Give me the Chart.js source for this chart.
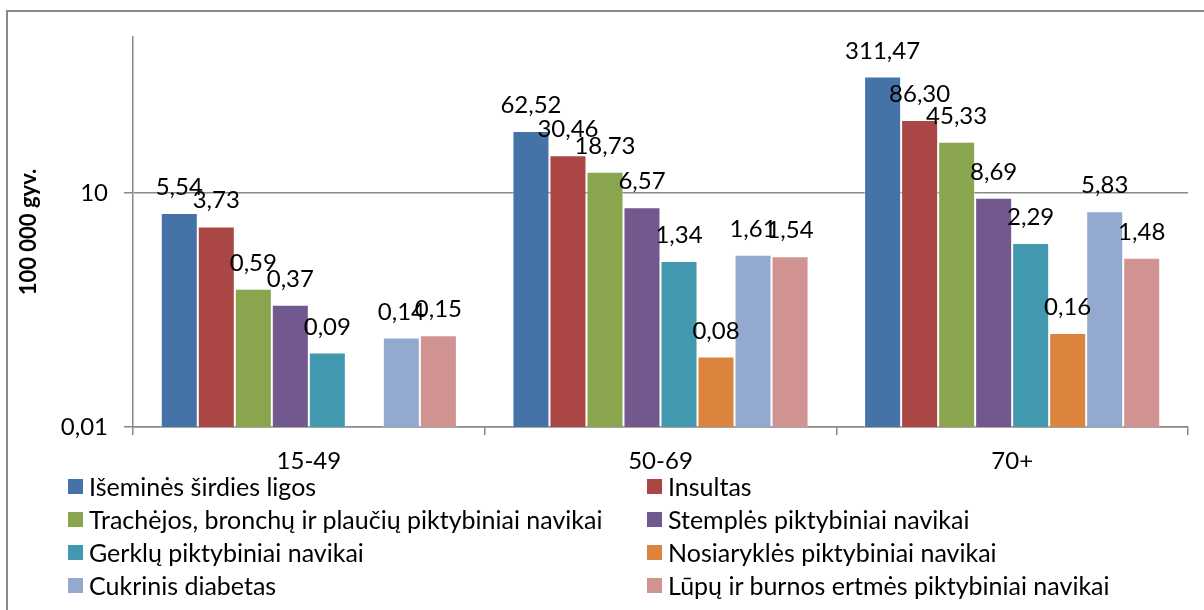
<!DOCTYPE html>
<html lang="lt">
<head>
<meta charset="utf-8">
<title>Mirtingumas 100 000 gyv.</title>
<script src="https://cdn.jsdelivr.net/npm/chart.js@4/dist/chart.umd.min.js"></script>
<style>
  html, body { margin: 0; padding: 0; background: #fff; }
  #wrap { position: relative; width: 1204px; height: 610px; overflow: hidden; }
  #grafikas { position: absolute; left: 0; top: 0; }
  .legenda { position: absolute; left: 0; top: 0; font-family: Lato, sans-serif; font-size: 25px; color: #000; }
  .legenda__item { position: absolute; display: flex; align-items: center; height: 30px; white-space: nowrap; }
  .legenda__box { width: 15px; height: 15px; margin-right: 6px; }
</style>
</head>
<body>
<div id="wrap">
  <canvas id="grafikas" width="1204" height="610"></canvas>
  <div class="legenda" id="legenda"></div>
</div>
<script>
const kategorijos = ['15-49', '50-69', '70+']
const serijos = [
  'Išeminės širdies ligos',
  'Insultas',
  'Trachėjos, bronchų ir plaučių piktybiniai navikai',
  'Stemplės piktybiniai navikai',
  'Gerklų piktybiniai navikai',
  'Nosiaryklės piktybiniai navikai',
  'Cukrinis diabetas',
  'Lūpų ir burnos ertmės piktybiniai navikai',
]
const isemines   = [5.54, 62.52, 311.47]
const insultas   = [3.73, 30.46, 86.30]
const trachejos  = [0.59, 18.73, 45.33]
const stemples   = [0.37, 6.57, 8.69]
const gerklu     = [0.09, 1.34, 2.29]
const nosiarykles = [null, 0.08, 0.16]
const diabetas   = [0.14, 1.61, 5.83]
const lupu       = [0.15, 1.54, 1.48]
const yTikai     = [0.01, 10]

const reiksmes = [isemines, insultas, trachejos, stemples, gerklu, nosiarykles, diabetas, lupu]
const spalvos  = ['#4572A7', '#AA4643', '#89A54E', '#71588F', '#4198AF', '#DB843D', '#93A9CF', '#D19392']
const PILKA = '#898989'
const fmt = v => v.toFixed(2).replace('.', ',')

Chart.defaults.font.family = 'Lato, sans-serif'
Chart.defaults.color = '#000'

const etiketes = {
  id: 'etiketes',
  afterDatasetsDraw(chart) {
    const { ctx } = chart
    ctx.save()
    ctx.font = '24px Lato, sans-serif'
    ctx.fillStyle = '#000'
    ctx.textAlign = 'center'
    ctx.textBaseline = 'alphabetic'
    chart.data.datasets.forEach((ds, i) => {
      chart.getDatasetMeta(i).data.forEach((bar, j) => {
        const v = ds.data[j]
        if (v == null) return
        ctx.fillText(fmt(v), bar.x, bar.y - 18)
      })
    })
    ctx.restore()
  },
}

const remelis = {
  id: 'remelis',
  beforeDraw(chart) {
    const { ctx } = chart
    ctx.save()
    ctx.strokeStyle = PILKA
    ctx.lineWidth = 2
    ctx.strokeRect(7, 11, 1400, 800)
    ctx.restore()
  },
}

new Chart(document.getElementById('grafikas'), {
  type: 'bar',
  data: {
    labels: kategorijos,
    datasets: serijos.map((s, i) => ({
      label: s,
      data: reiksmes[i],
      backgroundColor: spalvos[i],
      borderColor: 'rgba(255,255,255,0.45)',
      borderWidth: 1,
      categoryPercentage: 0.842,
      barPercentage: 1,
    })),
  },
  options: {
    responsive: false,
    animation: false,
    layout: { padding: { left: 0, top: 37, right: 16, bottom: 0 } },
    plugins: {
      legend: { display: false },
      tooltip: { enabled: false },
    },
    scales: {
      x: {
        grid: { offset: true, drawOnChartArea: false, color: PILKA, lineWidth: 1.5, tickLength: 8 },
        border: { color: PILKA, width: 1.5 },
        ticks: { font: { size: 24 }, padding: 12 },
        afterFit: s => { s.height = 183 },
      },
      y: {
        type: 'logarithmic',
        min: 0.01,
        max: 1000,
        afterBuildTicks: s => { s.ticks = yTikai.map(v => ({ value: v })) },
        grid: { color: PILKA, lineWidth: 1.5, tickLength: 9 },
        border: { color: PILKA, width: 1.5 },
        ticks: { font: { size: 24 }, padding: 16, callback: v => String(v).replace('.', ',') },
        title: { display: true, text: '100 000 gyv.', font: { size: 22, weight: 'bold' }, padding: { top: 16 } },
        afterFit: s => { s.width = 133 },
      },
    },
  },
  plugins: [remelis, etiketes],
})

// legenda: du stulpeliai
const legenda = document.getElementById('legenda')
const stulpX = [68, 647]
const eiluteY = [471, 504, 537, 570]
serijos.forEach((s, i) => {
  const el = document.createElement('div')
  el.className = 'legenda__item'
  el.style.left = stulpX[i % 2] + 'px'
  el.style.top = eiluteY[Math.floor(i / 2)] + 'px'
  el.innerHTML = `<span class="legenda__box" style="background:${spalvos[i]}"></span><span>${s}</span>`
  legenda.appendChild(el)
})
</script>
</body>
</html>
